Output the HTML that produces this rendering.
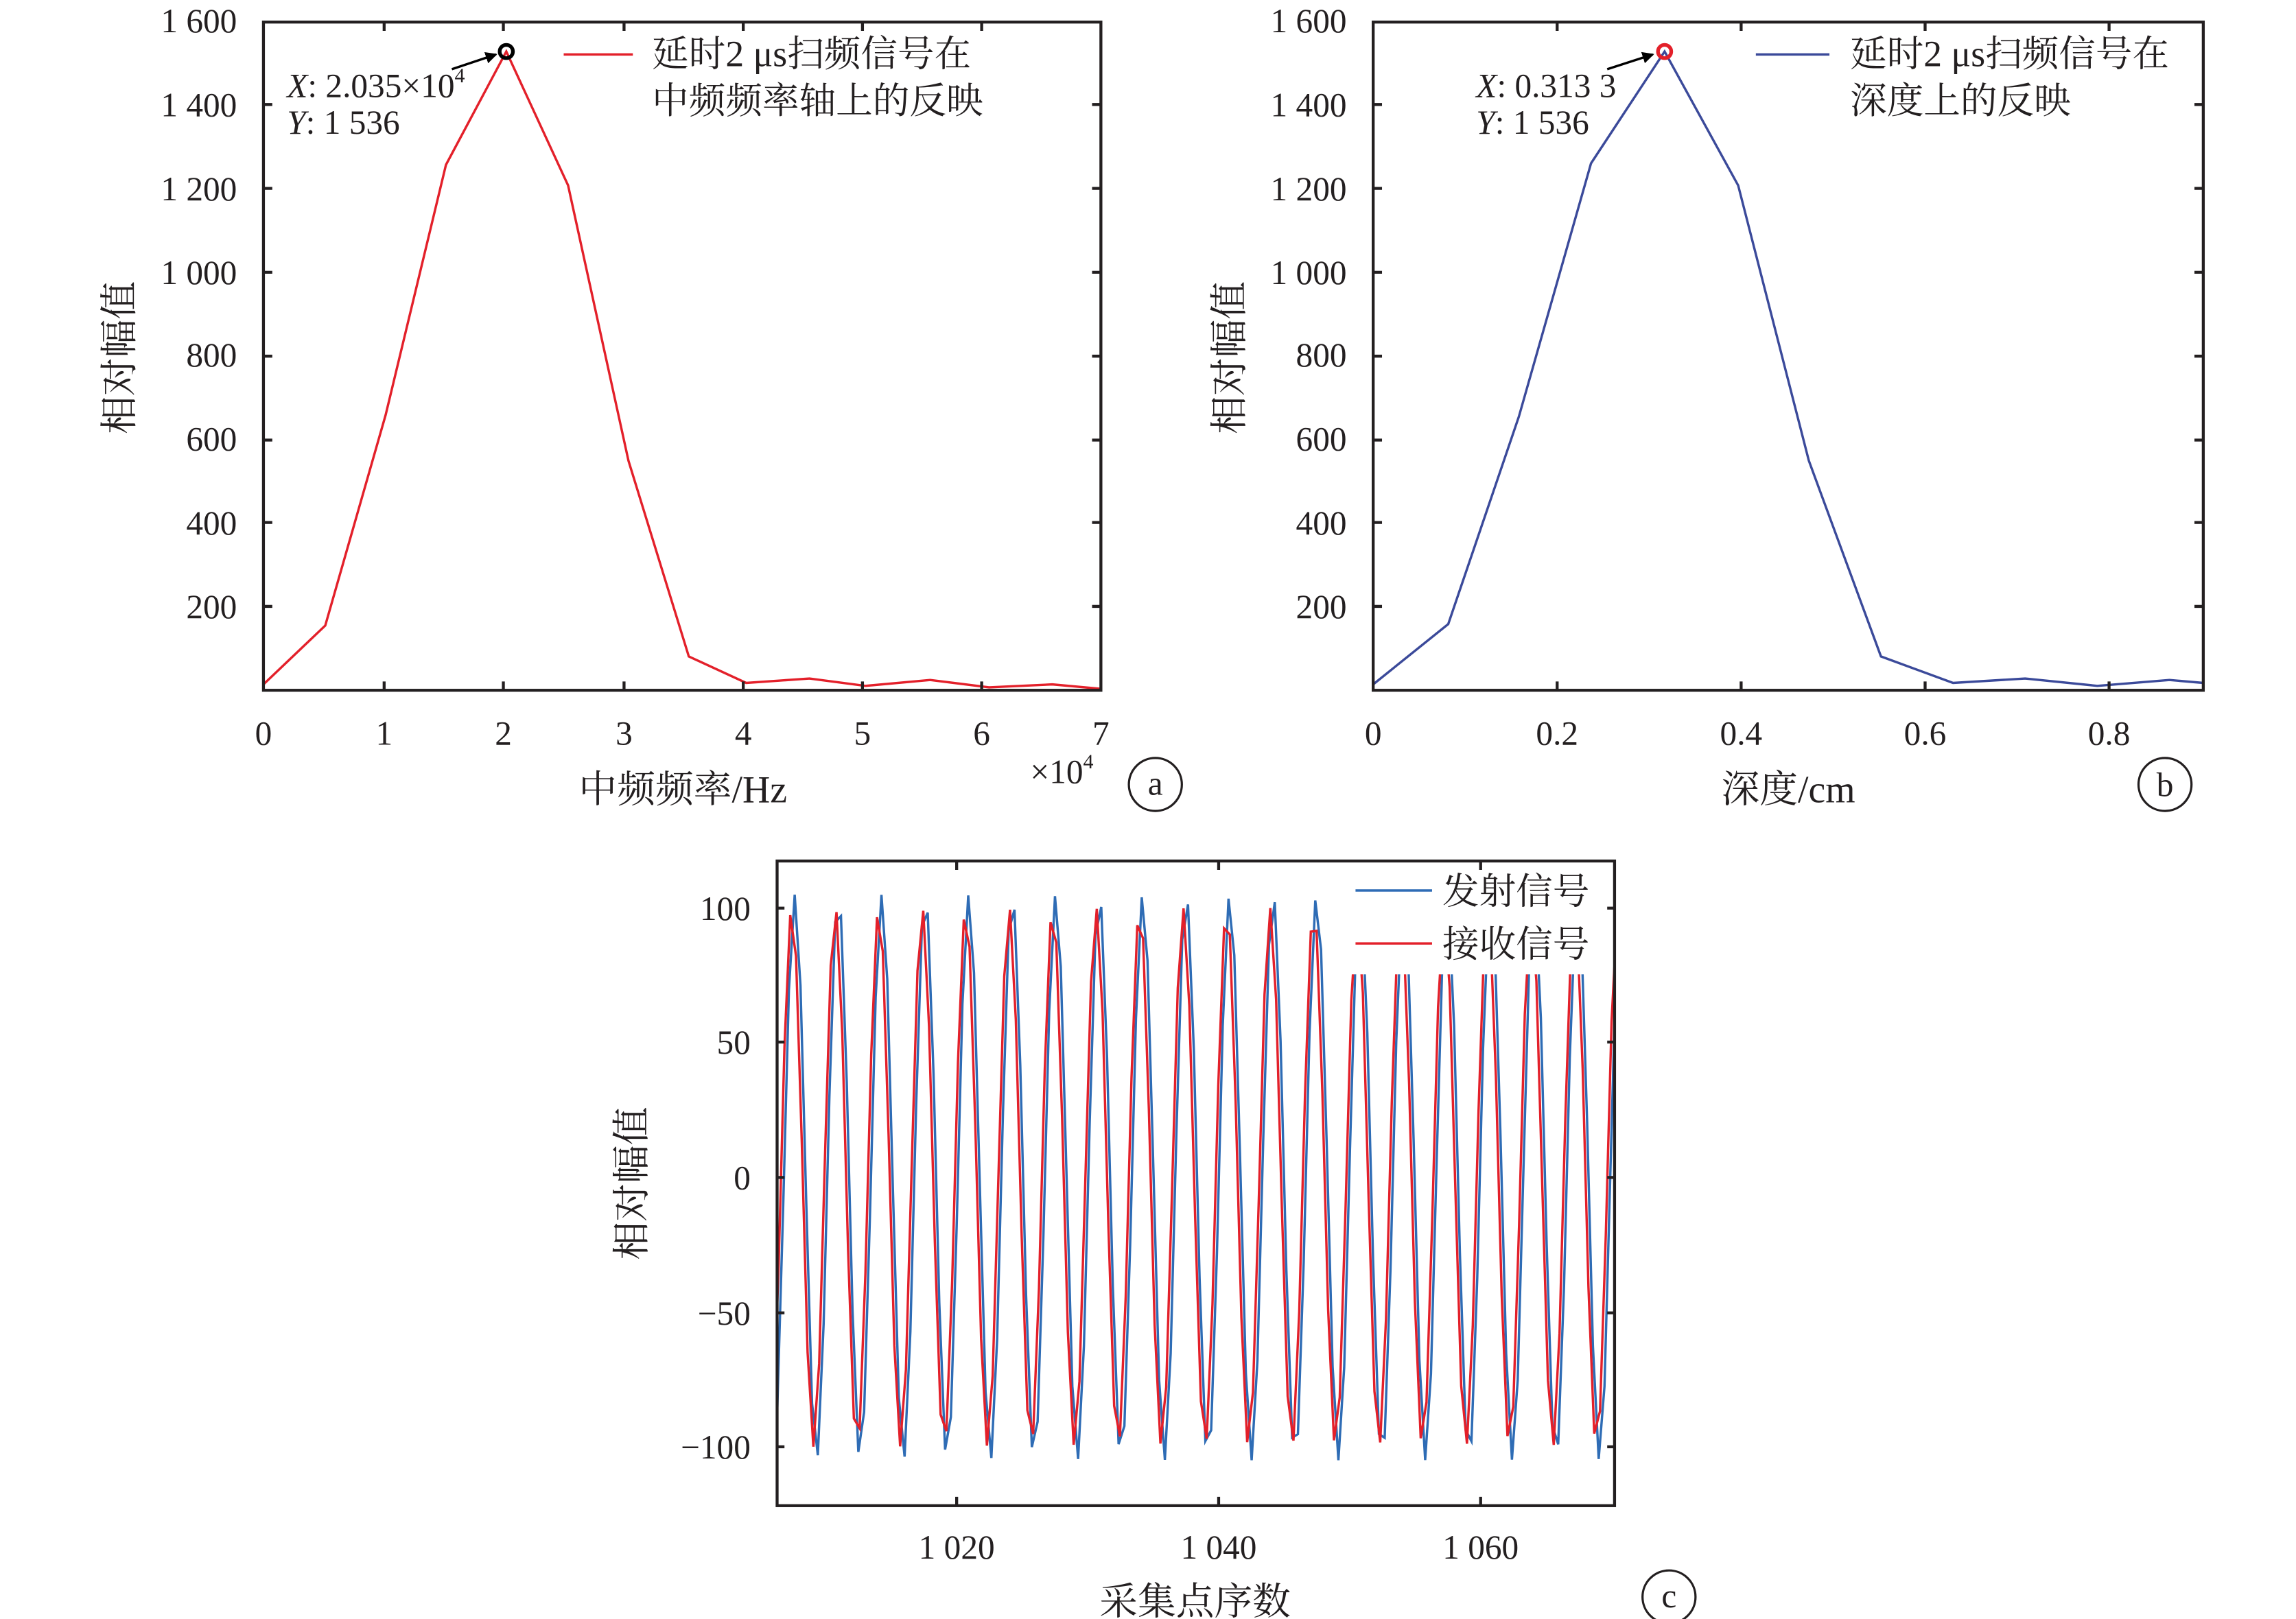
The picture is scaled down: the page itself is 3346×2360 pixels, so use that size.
<!DOCTYPE html>
<html><head><meta charset="utf-8">
<style>
html,body{margin:0;padding:0;background:#fff;}
svg{display:block;}
text{font-family:"Liberation Serif","Noto Serif CJK SC",serif;fill:#231f20;}
.t{font-size:23px;}
.cjk{font-family:"Liberation Serif","Noto Serif CJK SC",serif;font-size:25px;}
.lab{font-family:"Liberation Serif","Noto Serif CJK SC",serif;font-size:26px;}
</style></head>
<body>
<svg id="s" width="3346" height="2360" viewBox="0 0 1560 1100" preserveAspectRatio="none" xmlns="http://www.w3.org/2000/svg">
<defs>
<clipPath id="cc"><rect x="528" y="585" width="569" height="438"/></clipPath>
<marker id="ar" markerWidth="8" markerHeight="8" refX="7" refY="4" orient="auto" markerUnits="userSpaceOnUse"><path d="M0,0 L8,4 L0,8 z" fill="#000"/></marker>
</defs>

<!-- Panel a -->
<g id="pa">
<polyline fill="none" stroke="#e3202a" stroke-width="1.6" points="179,465 221,425 262,282 303,112 344,35 386,126 427,313 468,446 507,464 550,461 588,466 632,462 672,467 715,465 748,468"/>
<rect x="179" y="15" width="569" height="454" fill="none" stroke="#231f20" stroke-width="2"/>
<g stroke="#231f20" stroke-width="2">
<path d="M261,469v-6M342,469v-6M424,469v-6M505,469v-6M586,469v-6M667,469v-6"/>
<path d="M261,15v6M342,15v6M424,15v6M505,15v6M586,15v6M667,15v6"/>
<path d="M179,412h6M179,355h6M179,299h6M179,242h6M179,185h6M179,128h6M179,71h6"/>
<path d="M748,412h-6M748,355h-6M748,299h-6M748,242h-6M748,185h-6M748,128h-6M748,71h-6"/>
</g>
<g class="t" text-anchor="end">
<text x="161" y="22">1 600</text><text x="161" y="79">1 400</text><text x="161" y="136">1 200</text><text x="161" y="193">1 000</text>
<text x="161" y="249">800</text><text x="161" y="306">600</text><text x="161" y="363">400</text><text x="161" y="420">200</text>
</g>
<g class="t" text-anchor="middle">
<text x="179" y="506">0</text><text x="261" y="506">1</text><text x="342" y="506">2</text><text x="424" y="506">3</text>
<text x="505" y="506">4</text><text x="586" y="506">5</text><text x="667" y="506">6</text><text x="748" y="506">7</text>
</g>
<text x="700" y="532" class="t">×10<tspan font-size="14" dy="-10">4</tspan></text>
<text x="464" y="545" class="lab" text-anchor="middle">中频频率/Hz</text>
<text transform="translate(90,243) rotate(-90)" class="lab" text-anchor="middle">相对幅值</text>
<circle cx="344" cy="35" r="4.5" fill="none" stroke="#000" stroke-width="2.5"/>
<line x1="307" y1="47" x2="337" y2="37" stroke="#000" stroke-width="1.6" marker-end="url(#ar)"/>
<text x="195" y="66" class="t"><tspan font-style="italic">X</tspan>: 2.035×10<tspan font-size="14" dy="-10">4</tspan></text>
<text x="195" y="91" class="t"><tspan font-style="italic">Y</tspan>: 1 536</text>
<line x1="383" y1="37" x2="430" y2="37" stroke="#e3202a" stroke-width="1.6"/>
<text x="443" y="45" class="cjk">延时2 μs扫频信号在</text>
<text x="443" y="77" class="cjk">中频频率轴上的反映</text>
<circle cx="785" cy="533" r="18" fill="none" stroke="#231f20" stroke-width="1.5"/>
<text x="785" y="540" class="t" text-anchor="middle">a</text>
</g>

<!-- Panel b -->
<g id="pb">
<polyline fill="none" stroke="#3b4a9a" stroke-width="1.6" points="933,465 984,424 1032,283 1081,111 1131,35 1181,126 1229,313 1278,446 1327,464 1376,461 1425,466 1474,462 1497,464"/>
<rect x="933" y="15" width="564" height="454" fill="none" stroke="#231f20" stroke-width="2"/>
<g stroke="#231f20" stroke-width="2">
<path d="M1058,469v-6M1183,469v-6M1308,469v-6M1433,469v-6"/>
<path d="M1058,15v6M1183,15v6M1308,15v6M1433,15v6"/>
<path d="M933,412h6M933,355h6M933,299h6M933,242h6M933,185h6M933,128h6M933,71h6"/>
<path d="M1497,412h-6M1497,355h-6M1497,299h-6M1497,242h-6M1497,185h-6M1497,128h-6M1497,71h-6"/>
</g>
<g class="t" text-anchor="end">
<text x="915" y="22">1 600</text><text x="915" y="79">1 400</text><text x="915" y="136">1 200</text><text x="915" y="193">1 000</text>
<text x="915" y="249">800</text><text x="915" y="306">600</text><text x="915" y="363">400</text><text x="915" y="420">200</text>
</g>
<g class="t" text-anchor="middle">
<text x="933" y="506">0</text><text x="1058" y="506">0.2</text><text x="1183" y="506">0.4</text><text x="1308" y="506">0.6</text><text x="1433" y="506">0.8</text>
</g>
<text x="1215" y="545" class="lab" text-anchor="middle">深度/cm</text>
<text transform="translate(844,243) rotate(-90)" class="lab" text-anchor="middle">相对幅值</text>
<circle cx="1131" cy="35" r="4.5" fill="none" stroke="#e3202a" stroke-width="2.5"/>
<line x1="1092" y1="47" x2="1123" y2="37" stroke="#000" stroke-width="1.6" marker-end="url(#ar)"/>
<text x="1003" y="66" class="t"><tspan font-style="italic">X</tspan>: 0.313 3</text>
<text x="1003" y="91" class="t"><tspan font-style="italic">Y</tspan>: 1 536</text>
<line x1="1193" y1="37" x2="1243" y2="37" stroke="#3b4a9a" stroke-width="1.6"/>
<text x="1257" y="45" class="cjk">延时2 μs扫频信号在</text>
<text x="1257" y="77" class="cjk">深度上的反映</text>
<circle cx="1471" cy="533" r="18" fill="none" stroke="#231f20" stroke-width="1.5"/>
<text x="1471" y="541" class="t" text-anchor="middle">b</text>
</g>

<!-- Panel c -->
<g id="pc">
<g clip-path="url(#cc)">
<polyline id="blue" fill="none" stroke="#2e6cb5" stroke-width="1.6" points=""/>
<polyline id="red" fill="none" stroke="#e3202a" stroke-width="1.6" points=""/>
</g>
<rect x="913" y="587" width="182" height="75" fill="#fff"/>
<rect x="528" y="585" width="569" height="438" fill="none" stroke="#231f20" stroke-width="2"/>
<g stroke="#231f20" stroke-width="2">
<path d="M650,1023v-6M828,1023v-6M1006,1023v-6"/>
<path d="M650,585v6M828,585v6M1006,585v6"/>
<path d="M528,617h5M528,708h5M528,800h5M528,892h5M528,983h5"/>
<path d="M1097,617h-5M1097,708h-5M1097,800h-5M1097,892h-5M1097,983h-5"/>
</g>
<g class="t" text-anchor="end">
<text x="510" y="625">100</text><text x="510" y="716">50</text><text x="510" y="808">0</text><text x="510" y="900">−50</text><text x="510" y="991">−100</text>
</g>
<g class="t" text-anchor="middle">
<text x="650" y="1059">1 020</text><text x="828" y="1059">1 040</text><text x="1006" y="1059">1 060</text>
</g>
<text x="812" y="1097" class="lab" text-anchor="middle">采集点序数</text>
<text transform="translate(438,804) rotate(-90)" class="lab" text-anchor="middle">相对幅值</text>
<line x1="921" y1="605" x2="973" y2="605" stroke="#2e6cb5" stroke-width="1.6"/>
<text x="980" y="614" class="cjk">发射信号</text>
<line x1="921" y1="641" x2="973" y2="641" stroke="#e3202a" stroke-width="1.6"/>
<text x="980" y="650" class="cjk">接收信号</text>
<circle cx="1134" cy="1085" r="18" fill="none" stroke="#231f20" stroke-width="1.5"/>
<text x="1134" y="1092" class="t" text-anchor="middle">c</text>
</g>
</svg>
<script>
function gen(id,A,xp,step,off){
  var P=29.55, pts=[];
  for(var x=520+off;x<=1105;x+=step){
    var v=A*Math.cos(2*Math.PI*(x-xp)/P);
    var y=800-v*1.83;
    pts.push(x.toFixed(2)+","+y.toFixed(1));
  }
  document.getElementById(id).setAttribute("points",pts.join(" "));
}
gen("blue",105,540,3.93,0.3);
gen("red",100,538,3.93,1.2);
</script>
</body></html>
